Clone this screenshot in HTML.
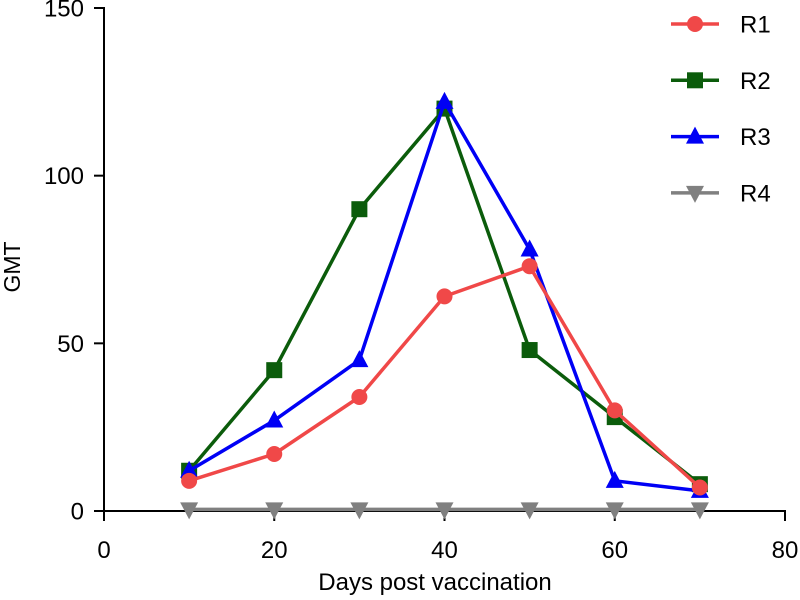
<!DOCTYPE html>
<html><head><meta charset="utf-8"><style>
html,body{margin:0;padding:0;background:#fff;}
svg{display:block;font-family:"Liberation Sans",Arial,sans-serif;}
</style></head><body>
<svg id="chart" width="800" height="600" viewBox="0 0 800 600" xmlns="http://www.w3.org/2000/svg"></svg>
<script>
const xValues = [10, 20, 30, 40, 50, 60, 70];
const r1 = [9, 17, 34, 64, 73, 30, 7];
const r2 = [12, 42, 90, 120, 48, 28, 8];
const r3 = [12, 27, 45, 122, 78, 9, 6];
const r4 = [0.5, 0.5, 0.5, 0.5, 0.5, 0.5, 0.5];
const xTicks = [0, 20, 40, 60, 80];
const yTicks = [0, 50, 100, 150];
const seriesNames = ["R1", "R2", "R3", "R4"];

const NS = "http://www.w3.org/2000/svg";
const svg = document.getElementById("chart");
function X(v){ return 104 + (v - 0) * (785 - 104) / 80; }
function Y(v){ return 511 - v * (511 - 8) / 150; }
function mk(tag, attrs, parent){
  const e = document.createElementNS(NS, tag);
  for (const k in attrs) e.setAttribute(k, attrs[k]);
  (parent || svg).appendChild(e);
  return e;
}
const axes = mk("g", {});


const yAxis = mk("line", {x1:104, y1:Y(150)-1, x2:104, y2:512, stroke:"#000", "stroke-width":2}, axes);


const xAxis = mk("line", {x1:103, y1:511, x2:X(80)+1, y2:511, stroke:"#000", "stroke-width":2}, axes);


yTicks.forEach(t => {
  mk("line", {x1:94, y1:Y(t), x2:104, y2:Y(t), stroke:"#000", "stroke-width":2}, axes);
  const tx = mk("text", {x:84, y:Y(t)+8.5, "text-anchor":"end", "font-size":24, fill:"#000"}, axes);
  tx.textContent = t;
  
  
});
xTicks.forEach(t => {
  mk("line", {x1:X(t), y1:511, x2:X(t), y2:521, stroke:"#000", "stroke-width":2}, axes);
  const tx = mk("text", {x:X(t), y:558, "text-anchor":"middle", "font-size":24, fill:"#000"}, axes);
  tx.textContent = t;
  
  
});
const xt = mk("text", {x:435, y:590, "text-anchor":"middle", "font-size":24, fill:"#000"});
xt.textContent = "Days post vaccination";


const yt = mk("text", {x:0, y:0, "text-anchor":"middle", "font-size":23, fill:"#000", transform:"translate(20,267) rotate(-90)"});
yt.textContent = "GMT";



function marker(shape, cx, cy, color, parent){
  if (shape === "circle") return mk("circle", {cx:cx, cy:cy, r:8, fill:color}, parent);
  if (shape === "square") return mk("rect", {x:cx-8, y:cy-8, width:16, height:16, fill:color}, parent);
  if (shape === "up") return mk("polygon", {points:`${cx},${cy-10} ${cx+9},${cy+7} ${cx-9},${cy+7}`, fill:color}, parent);
  return mk("polygon", {points:`${cx},${cy+10} ${cx+9},${cy-7} ${cx-9},${cy-7}`, fill:color}, parent);
}
const colors = ["#f04848", "#0b5c0b", "#0000f5", "#808080"];
const shapes = ["circle", "square", "up", "down"];
const drawOrder = [3, 1, 2, 0];
const allData = [r1, r2, r3, r4];
drawOrder.forEach(i => {
  const g = mk("g", {});
  
  
  const pts = allData[i].map((v, j) => X(xValues[j]) + "," + Y(v)).join(" ");
  const pl = mk("polyline", {points:pts, fill:"none", stroke:colors[i], "stroke-width":3.5, "stroke-linejoin":"round"}, g);
  
  
  allData[i].forEach((v, j) => {
    const m = marker(shapes[i], X(xValues[j]), Y(v), colors[i], g);
    
    
  });
});
const leg = mk("g", {});


seriesNames.forEach((n, i) => {
  const ly = 24 + i * 56.3;
  const e = mk("g", {}, leg);
  
  
  mk("line", {x1:671, y1:ly, x2:719, y2:ly, stroke:colors[i], "stroke-width":3.5}, e);
  marker(shapes[i], 695, ly, colors[i], e);
  const t = mk("text", {x:740, y:ly+8.5, "font-size":24, fill:"#000"}, e);
  t.textContent = n;
});
</script>
</body></html>
